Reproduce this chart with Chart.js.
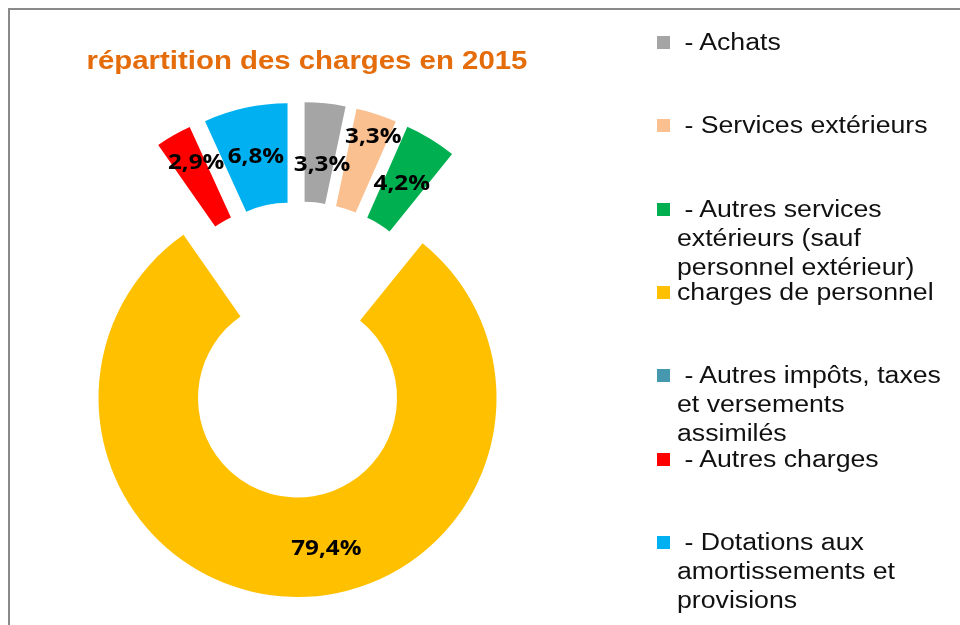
<!DOCTYPE html>
<html>
<head>
<meta charset="utf-8">
<script src="https://cdn.jsdelivr.net/npm/chart.js@4.4.0/dist/chart.umd.min.js"></script>
<style>
    html, body { margin: 0; padding: 0; background: #fff; overflow: hidden; }
    #wrap { position: relative; width: 960px; height: 625px; }
    #frame { position: absolute; left: 8px; top: 8px; width: 1000px; height: 700px; border: 2px solid #8a8a8a; }
    #chart { position: absolute; left: 0; top: 0; }
    #title {
        position: absolute; left: 60px; top: 45px; width: 494px; text-align: center;
        font: bold 26px "Liberation Sans", Arial, sans-serif; color: #e46c0a;
        transform: scaleX(1.13); transform-origin: 50% 0;
    }
    #legend { position: absolute; left: 657px; top: 0; width: 300px; }
    .item { position: absolute; left: 0; width: 300px; }
    .box { position: absolute; left: 0; width: 13px; height: 13px; }
    .txt {
        position: absolute; left: 20px; width: 235px; white-space: pre-wrap;
        font: 23px "Liberation Sans", Arial, sans-serif; line-height: 29px; color: #111;
        transform: scaleX(1.16); transform-origin: 0 0;
    }
</style>
</head>
<body>
<div id="wrap">
    <div id="frame"></div>
    <canvas id="chart" width="960" height="625"></canvas>
    <div id="title">répartition des charges en 2015</div>
    <div id="legend"></div>
</div>
<script>
const categories = [
    ' - Achats',
    ' - Services extérieurs',
    ' - Autres services extérieurs (sauf personnel extérieur)',
    'charges de personnel',
    ' - Autres impôts, taxes et versements assimilés',
    ' - Autres charges',
    ' - Dotations aux amortissements et provisions'
];
const shares = [3.3, 3.3, 4.2, 79.4, 0, 2.9, 6.8];
const colors = ['#a5a5a5', '#fac090', '#00b050', '#ffc000', '#4598ad', '#ff0000', '#00b0f0'];

// how far each slice is pulled out from the centre (px)
const explode = [54, 54, 54, 43, 54, 54, 54];
// small nudges for the value labels
const labelNudge = [[2, 12], [12, -25], [-3, 2], [34, 2], [0, 0], [-2, -16], [0, 0]];

// legend
const legend = document.getElementById('legend');
categories.forEach((name, i) => {
    const item = document.createElement('div');
    item.className = 'item';
    item.style.top = (28 + i * 83.3) + 'px';
    item.innerHTML = '<div class="box" style="top:8px;background:' + colors[i] + '"></div>' +
        '<div class="txt">' + name + '</div>';
    legend.appendChild(item);
});

// draw each slice moved out along its middle angle, plus its label
const explodePlugin = {
    id: 'explode',
    beforeDatasetDraw(chart, args) {
        const ctx = chart.ctx;
        const arcs = args.meta.data;
        arcs.forEach((arc, i) => {
            const mid = (arc.startAngle + arc.endAngle) / 2;
            ctx.save();
            ctx.translate(Math.cos(mid) * explode[i], Math.sin(mid) * explode[i]);
            arc.draw(ctx);
            ctx.restore();
        });
        arcs.forEach((arc, i) => {
            if (!shares[i]) return;
            const mid = (arc.startAngle + arc.endAngle) / 2;
            const p = arc.tooltipPosition();
            const x = p.x + Math.cos(mid) * explode[i] + labelNudge[i][0];
            const y = p.y + Math.sin(mid) * explode[i] + labelNudge[i][1];
            ctx.save();
            ctx.translate(x, y);
            ctx.scale(1.1, 1);
            ctx.font = 'bold 22px "Open Sans", sans-serif';
            ctx.fillStyle = '#000';
            ctx.textAlign = 'center';
            ctx.textBaseline = 'middle';
            ctx.fillText(shares[i].toFixed(1).replace('.', ',') + '%', 0, 0);
            ctx.restore();
        });
        return false;
    }
};

new Chart(document.getElementById('chart'), {
    type: 'doughnut',
    data: {
        labels: categories,
        datasets: [{
            data: shares,
            backgroundColor: colors,
            borderWidth: 0
        }]
    },
    options: {
        responsive: false,
        animation: false,
        radius: 199,
        cutout: '50%',
        layout: { padding: { left: 0, right: 362, top: 85, bottom: 0 } },
        plugins: {
            legend: { display: false },
            tooltip: { enabled: false }
        }
    },
    plugins: [explodePlugin]
});
</script>
</body>
</html>
